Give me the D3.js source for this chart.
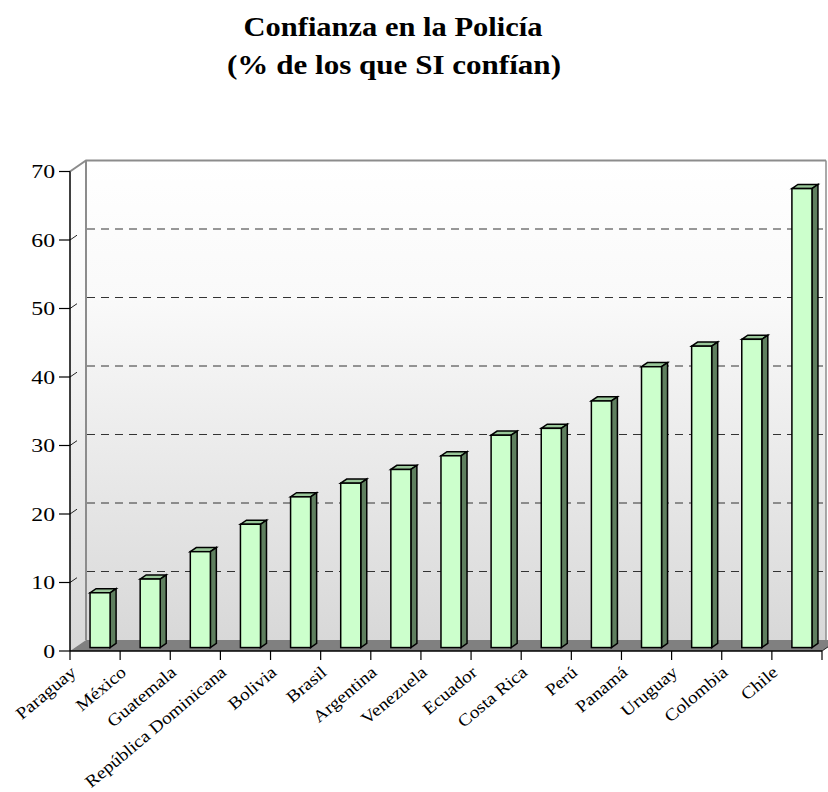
<!DOCTYPE html>
<html>
<head>
<meta charset="utf-8">
<script src="https://cdn.jsdelivr.net/npm/d3@7/dist/d3.min.js"></script>
<style>
  html, body { margin: 0; padding: 0; background: #ffffff; }
  svg { display: block; }
</style>
</head>
<body>
<div id="chart"></div>
<script>
// Share of people who trust the police, by country
const countries = ["Paraguay", "México", "Guatemala", "República Dominicana", "Bolivia",
  "Brasil", "Argentina", "Venezuela", "Ecuador", "Costa Rica", "Perú", "Panamá",
  "Uruguay", "Colombia", "Chile"];
const trustPct = [8, 10, 14, 18, 22, 24, 26, 28, 31, 32, 36, 41, 44, 45, 67];
const yTicks = [0, 10, 20, 30, 40, 50, 60, 70];
const titleLines = ["Confianza en la Policía", "(% de los que SI confían)"];

const W = 828, H = 792;
const SERIF = "'Liberation Serif', 'Times New Roman', serif";
const svg = d3.select("#chart").append("svg").attr("width", W).attr("height", H);

// Oblique depth of the 3-D box
const DX = 16, DY = -11;
// Bars sit in the middle of the depth
const barFront = 5 / 16, barBack = 11 / 16;

const x = d3.scaleBand().domain(countries).range([70, 822]).paddingInner(0.6).paddingOuter(0.3);
const y = d3.scaleLinear().domain([0, 70]).range([651, 171.5]);

const defs = svg.append("defs");
const grad = defs.append("linearGradient").attr("id", "wall").attr("x1", 0).attr("y1", 0).attr("x2", 0).attr("y2", 1);
grad.append("stop").attr("offset", "0").attr("stop-color", "#ffffff");
grad.append("stop").attr("offset", "0.3").attr("stop-color", "#f9f9f9");
grad.append("stop").attr("offset", "1").attr("stop-color", "#d8d8d8");

const x0 = x.range()[0], x1 = x.range()[1];
const yTop = y(70), yBot = y(0);
const wallRight = 826;

// Back wall
svg.append("rect")
  .attr("x", x0 + DX).attr("y", yTop + DY)
  .attr("width", wallRight - (x0 + DX)).attr("height", yBot - yTop)
  .attr("fill", "url(#wall)");
// Side wall
svg.append("path")
  .attr("d", `M${x0},${yTop} L${x0 + DX},${yTop + DY} L${x0 + DX},${yBot + DY} L${x0},${yBot} Z`)
  .attr("fill", "url(#wall)");

// Gridlines on back wall, short links on the side wall
const grid = svg.append("g").attr("stroke", "#333").attr("stroke-width", 1).attr("stroke-dasharray", "8,6").attr("fill", "none");
yTicks.filter(t => t > 0 && t < 70).forEach(t => {
  grid.append("line").attr("x1", x0 + DX + 1).attr("x2", wallRight).attr("y1", y(t) + DY).attr("y2", y(t) + DY);
});
const sideTicks = svg.append("g").attr("stroke", "#222").attr("stroke-width", 1);
yTicks.filter(t => t > 0 && t < 70).forEach(t => {
  sideTicks.append("line").attr("x1", x0).attr("y1", y(t)).attr("x2", x0 + 7).attr("y2", y(t) + DY * 7 / 16);
});

// Floor
svg.append("path")
  .attr("d", `M${x0},${yBot} L${x1},${yBot} L${x1 + DX},${yBot + DY} L${x0 + DX},${yBot + DY} Z`)
  .attr("fill", "#808080");

// Wall frame edges
svg.append("path")
  .attr("d", `M${x0},${yTop} L${x0 + DX},${yTop + DY} L${wallRight},${yTop + DY}`)
  .attr("fill", "none").attr("stroke", "#8c8c8c").attr("stroke-width", 2);
svg.append("line")
  .attr("x1", x0 + DX).attr("x2", x0 + DX).attr("y1", yTop + DY).attr("y2", yBot + DY)
  .attr("stroke", "#8c8c8c").attr("stroke-width", 2);
svg.append("line")
  .attr("x1", wallRight).attr("x2", wallRight).attr("y1", yTop + DY).attr("y2", yBot + DY)
  .attr("stroke", "#8c8c8c").attr("stroke-width", 1.5);

// Bars
const bars = svg.append("g").attr("stroke", "#000").attr("stroke-width", 1.5).attr("stroke-linejoin", "miter");
countries.forEach((c, i) => {
  const v = trustPct[i];
  const fx = x(c) + DX * barFront, fy = DY * barFront;
  const bx = DX * (barBack - barFront), by = DY * (barBack - barFront);
  const w = x.bandwidth();
  const top = y(v) + fy, bottom = y(0) + fy;
  // top face
  bars.append("path")
    .attr("d", `M${fx},${top} L${fx + bx},${top + by} L${fx + w + bx},${top + by} L${fx + w},${top} Z`)
    .attr("fill", "#99c799");
  // side face
  bars.append("path")
    .attr("d", `M${fx + w},${top} L${fx + w + bx},${top + by} L${fx + w + bx},${bottom + by} L${fx + w},${bottom} Z`)
    .attr("fill", "#5f7f5f");
  // front face
  bars.append("rect")
    .attr("x", fx).attr("y", top).attr("width", w).attr("height", bottom - top)
    .attr("fill", "#ccffcc");
});

// Axis lines
svg.append("line").attr("x1", x0).attr("x2", x0).attr("y1", yTop).attr("y2", yBot)
  .attr("stroke", "#000").attr("stroke-width", 1.5);
svg.append("line").attr("x1", x0).attr("x2", x1).attr("y1", yBot).attr("y2", yBot)
  .attr("stroke", "#000").attr("stroke-width", 1.5);
svg.append("line").attr("x1", x1).attr("x2", x1 + DX).attr("y1", yBot).attr("y2", yBot + DY)
  .attr("stroke", "#222").attr("stroke-width", 1);

// Y axis ticks & labels
const yAxis = svg.append("g");
yTicks.forEach(t => {
  yAxis.append("line").attr("x1", 59).attr("x2", x0).attr("y1", y(t)).attr("y2", y(t))
    .attr("stroke", "#000").attr("stroke-width", 1.2);
  yAxis.append("text")
    .attr("transform", `translate(55,${y(t) + 6.5}) scale(1.25,1)`)
    .attr("text-anchor", "end")
    .attr("font-family", SERIF)
    .attr("font-size", 19).attr("fill", "#000")
    .text(t);
});

// X axis ticks & labels
const step = x.step();
d3.range(countries.length + 1).forEach(i => {
  svg.append("line").attr("x1", x0 + i * step).attr("x2", x0 + i * step).attr("y1", yBot).attr("y2", yBot + 9)
    .attr("stroke", "#000").attr("stroke-width", 1.2);
});
countries.forEach((c, i) => {
  const cx = x0 + (i + 0.5) * step;
  svg.append("text")
    .attr("transform", `translate(${cx - 18},${674}) rotate(-40) scale(1.14,1)`)
    .attr("text-anchor", "end")
    .attr("font-family", SERIF)
    .attr("font-size", 17).attr("fill", "#000")
    .text(c);
});

// Title
const title = svg.append("g")
  .attr("font-family", SERIF)
  .attr("font-weight", "bold").attr("font-size", 27).attr("fill", "#000")
  .attr("text-anchor", "middle");
title.append("text").attr("x", 393).attr("y", 36).attr("textLength", 299).attr("lengthAdjust", "spacingAndGlyphs").text(titleLines[0]);
title.append("text").attr("x", 394).attr("y", 74).attr("textLength", 334).attr("lengthAdjust", "spacingAndGlyphs").text(titleLines[1]);
</script>
</body>
</html>
